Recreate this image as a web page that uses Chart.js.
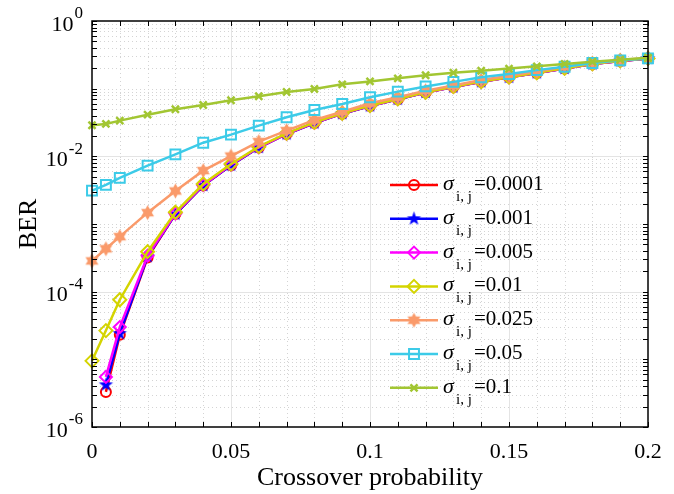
<!DOCTYPE html>
<html>
<head>
<meta charset="utf-8">
<script src="https://cdn.jsdelivr.net/npm/chart.js@4/dist/chart.umd.min.js"></script>
<style>
  body { margin: 0; background: #fff; }
  canvas { display: block; }
</style>
</head>
<body>
<canvas id="ber-chart" width="674" height="494"></canvas>
<script>
// --- data ---
const crossoverProb = [0, 0.005, 0.01, 0.02, 0.03, 0.04, 0.05, 0.06, 0.07, 0.08, 0.09, 0.1,
                       0.11, 0.12, 0.13, 0.14, 0.15, 0.16, 0.17, 0.18, 0.19, 0.2];
const sigmaLabels = ['0.0001', '0.001', '0.005', '0.01', '0.025', '0.05', '0.1'];

const berSigma00001 = [null, 3.3e-6, 2.3e-5, 3.2e-4, 1.40e-3, 3.7e-3, 7.4e-3, 0.0135, 0.0214, 0.0311, 0.0427, 0.0555,
                       0.0699, 0.0879, 0.106, 0.126, 0.147, 0.171, 0.199, 0.231, 0.257, 0.279];
const berSigma0001  = [null, 4.2e-6, 2.4e-5, 3.3e-4, 1.40e-3, 3.7e-3, 7.4e-3, 0.0135, 0.0214, 0.0311, 0.0427, 0.0555,
                       0.0699, 0.0879, 0.106, 0.126, 0.147, 0.171, 0.199, 0.231, 0.257, 0.279];
const berSigma0005  = [null, 5.5e-6, 3.0e-5, 3.4e-4, 1.43e-3, 3.75e-3, 7.5e-3, 0.0136, 0.0215, 0.0312, 0.0428, 0.0556,
                       0.0700, 0.0880, 0.106, 0.126, 0.147, 0.171, 0.199, 0.231, 0.257, 0.279];
const berSigma001   = [9.5e-6, 2.66e-5, 7.6e-5, 3.9e-4, 1.49e-3, 3.9e-3, 7.7e-3, 0.0139, 0.0219, 0.0317, 0.0433, 0.0561,
                       0.0705, 0.0884, 0.107, 0.127, 0.148, 0.172, 0.200, 0.232, 0.258, 0.280];
const berSigma0025  = [2.85e-4, 4.3e-4, 6.5e-4, 1.47e-3, 3.08e-3, 6.15e-3, 0.0101, 0.0165, 0.0240, 0.0345, 0.0457, 0.0608,
                       0.0746, 0.0935, 0.111, 0.134, 0.155, 0.180, 0.210, 0.240, 0.265, 0.285];
const berSigma005   = [3.11e-3, 3.78e-3, 4.8e-3, 7.3e-3, 0.0107, 0.0159, 0.0209, 0.0284, 0.0378, 0.0485, 0.0594, 0.0746,
                       0.0904, 0.108, 0.126, 0.147, 0.165, 0.188, 0.211, 0.240, 0.262, 0.280];
const berSigma01    = [0.0288, 0.0301, 0.0337, 0.0413, 0.0496, 0.0574, 0.0674, 0.0773, 0.0894, 0.099, 0.116, 0.128,
                       0.142, 0.158, 0.172, 0.184, 0.198, 0.214, 0.232, 0.250, 0.268, 0.286];

const xTickValues = [0, 0.05, 0.1, 0.15, 0.2];
const xMinorStep = 0.01;
const yTickExponents = [0, -2, -4, -6];

const FONT = "'Liberation Serif', 'DejaVu Serif', serif";

// filled star markers (pentagram / hexagram) as small canvases
function starCanvas(points, outerR, innerR, color) {
    const size = Math.ceil(outerR * 2 + 2);
    const c = document.createElement('canvas');
    c.width = size; c.height = size;
    const g = c.getContext('2d');
    g.translate(size / 2, size / 2);
    g.beginPath();
    for (let i = 0; i < points * 2; i++) {
        const r = i % 2 ? innerR : outerR;
        const a = -Math.PI / 2 + i * Math.PI / points;
        g.lineTo(r * Math.cos(a), r * Math.sin(a));
    }
    g.closePath();
    g.fillStyle = color;
    g.fill();
    return c;
}

const pentagram = starCanvas(5, 7.5, 3.0, '#0000ff');
const hexagram = starCanvas(6, 7.5, 4.2, '#fa9a6a');

const seriesStyle = [
    { data: berSigma00001, color: '#ff0000', pointStyle: 'circle', radius: 5, bw: 2 },
    { data: berSigma0001,  color: '#0000ff', pointStyle: pentagram, radius: 7, bw: 1 },
    { data: berSigma0005,  color: '#ff00ff', pointStyle: 'rectRot', radius: 6, bw: 2 },
    { data: berSigma001,   color: '#d4d400', pointStyle: 'rectRot', radius: 6.5, bw: 2 },
    { data: berSigma0025,  color: '#fa9a6a', pointStyle: hexagram, radius: 7, bw: 1 },
    { data: berSigma005,   color: '#3ccbe8', pointStyle: 'rect', radius: 7, bw: 2 },
    { data: berSigma01,    color: '#a2c632', pointStyle: 'crossRot', radius: 5, bw: 2.5 }
];

const datasets = seriesStyle.map((s, i) => ({
    label: 'sigma=' + sigmaLabels[i],
    data: crossoverProb.map((p, k) => ({ x: p, y: s.data[k] })),
    borderColor: s.color,
    backgroundColor: s.color,
    borderWidth: 2.5,
    pointStyle: s.pointStyle,
    pointRadius: s.radius,
    pointBorderWidth: s.bw,
    pointBorderColor: s.color,
    pointBackgroundColor: 'rgba(0,0,0,0)',
    tension: 0,
    clip: false,
    order: seriesStyle.length - i
}));

function markerAt(ctx, s, x, y) {
    ctx.save();
    ctx.strokeStyle = s.color;
    ctx.lineWidth = s.bw;
    ctx.beginPath();
    const r = s.radius;
    if (typeof s.pointStyle === 'object') {
        ctx.drawImage(s.pointStyle, x - s.pointStyle.width / 2, y - s.pointStyle.height / 2);
    } else if (s.pointStyle === 'circle') {
        ctx.arc(x, y, r, 0, Math.PI * 2); ctx.stroke();
    } else if (s.pointStyle === 'rectRot') {
        ctx.moveTo(x, y - r); ctx.lineTo(x + r, y); ctx.lineTo(x, y + r); ctx.lineTo(x - r, y); ctx.closePath(); ctx.stroke();
    } else if (s.pointStyle === 'rect') {
        const h = r * Math.SQRT1_2;
        ctx.rect(x - h, y - h, 2 * h, 2 * h); ctx.stroke();
    } else if (s.pointStyle === 'crossRot') {
        const d = r * Math.SQRT1_2;
        ctx.moveTo(x - d, y - d); ctx.lineTo(x + d, y + d);
        ctx.moveTo(x - d, y + d); ctx.lineTo(x + d, y - d);
        ctx.stroke();
    }
    ctx.restore();
}

// grid (major solid, minor dotted), drawn under the lines
const gridPlugin = {
    id: 'matlabGrid',
    beforeDatasetsDraw(chart) {
        const { ctx, chartArea: a, scales: { x, y } } = chart;
        ctx.save();
        ctx.lineWidth = 1;
        ctx.strokeStyle = '#d4d4d4';
        ctx.setLineDash([1, 3]);
        ctx.beginPath();
        for (let v = xMinorStep; v < 0.2 - 1e-9; v += xMinorStep) {
            if (xTickValues.some(t => Math.abs(t - v) < 1e-9)) continue;
            const px = Math.round(x.getPixelForValue(v)) + 0.5;
            ctx.moveTo(px, a.top); ctx.lineTo(px, a.bottom);
        }
        for (let e = -6; e < 0; e++) {
            for (let m = 1; m <= 9; m++) {
                if (m === 1 && yTickExponents.includes(e)) continue;
                const py = Math.round(y.getPixelForValue(m * Math.pow(10, e))) + 0.5;
                ctx.moveTo(a.left, py); ctx.lineTo(a.right, py);
            }
        }
        ctx.stroke();
        ctx.setLineDash([]);
        ctx.strokeStyle = '#e4e4e4';
        ctx.beginPath();
        xTickValues.slice(1, -1).forEach(v => {
            const px = Math.round(x.getPixelForValue(v)) + 0.5;
            ctx.moveTo(px, a.top); ctx.lineTo(px, a.bottom);
        });
        yTickExponents.slice(1, -1).forEach(e => {
            const py = Math.round(y.getPixelForValue(Math.pow(10, e))) + 0.5;
            ctx.moveTo(a.left, py); ctx.lineTo(a.right, py);
        });
        ctx.stroke();
        ctx.restore();
    },
    afterDatasetsDraw(chart) {
        const { ctx, chartArea: a, scales: { x, y } } = chart;
        ctx.save();
        // inward ticks on all four sides
        ctx.strokeStyle = '#000';
        ctx.lineWidth = 1;
        ctx.beginPath();
        const tl = 5;
        for (let v = 0; v <= 0.2 + 1e-9; v += xMinorStep) {
            const px = Math.round(x.getPixelForValue(v)) + 0.5;
            ctx.moveTo(px, a.bottom); ctx.lineTo(px, a.bottom - tl);
            ctx.moveTo(px, a.top); ctx.lineTo(px, a.top + tl);
        }
        for (let e = -6; e <= 0; e++) {
            for (let m = 1; m <= 9; m++) {
                if (e === 0 && m > 1) break;
                const py = Math.round(y.getPixelForValue(m * Math.pow(10, e))) + 0.5;
                ctx.moveTo(a.left, py); ctx.lineTo(a.left + tl, py);
                ctx.moveTo(a.right, py); ctx.lineTo(a.right - tl, py);
            }
        }
        ctx.stroke();
        // axes box
        ctx.lineWidth = 1.5;
        ctx.strokeRect(a.left, a.top, a.right - a.left, a.bottom - a.top);

        // y tick labels 10^k
        ctx.fillStyle = '#000';
        ctx.textAlign = 'right';
        ctx.textBaseline = 'middle';
        yTickExponents.forEach(e => {
            const py = y.getPixelForValue(Math.pow(10, e));
            ctx.font = '17px ' + FONT;
            const sup = String(e);
            const supW = ctx.measureText(sup).width;
            ctx.fillText(sup, a.left - 9, py - 7);
            ctx.font = '22px ' + FONT;
            ctx.fillText('10', a.left - 10 - supW, py + 4);
        });

        // legend
        seriesStyle.forEach((s, i) => {
            const ly = 185 + i * 33.8;
            ctx.strokeStyle = s.color;
            ctx.lineWidth = 2.5;
            ctx.beginPath();
            ctx.moveTo(390, ly); ctx.lineTo(438, ly);
            ctx.stroke();
            markerAt(ctx, s, 414, ly);
            ctx.fillStyle = '#000';
            ctx.textAlign = 'left';
            ctx.textBaseline = 'alphabetic';
            ctx.font = 'italic 22px ' + FONT;
            ctx.fillText('\u03C3', 443, ly + 5);
            ctx.font = '15px ' + FONT;
            ctx.fillText('i, j', 456, ly + 16);
            ctx.font = '21px ' + FONT;
            ctx.fillText('=' + sigmaLabels[i], 474, ly + 5);
        });
        ctx.restore();
    }
};

new Chart(document.getElementById('ber-chart'), {
    type: 'line',
    data: { datasets },
    options: {
        responsive: false,
        animation: false,
        layout: { padding: { top: 21, right: 26, left: 0, bottom: 0 } },
        plugins: { legend: { display: false }, tooltip: { enabled: false } },
        scales: {
            x: {
                type: 'linear',
                min: 0, max: 0.2,
                grid: { display: false },
                border: { display: false },
                afterBuildTicks: scale => { scale.ticks = xTickValues.map(v => ({ value: v })); },
                afterFit: scale => { scale.height = 67; },
                ticks: {
                    color: '#000',
                    font: { family: FONT, size: 22 },
                    padding: 4,
                    maxRotation: 0,
                    callback: v => String(Number(v.toFixed(2)))
                },
                title: {
                    display: true,
                    text: 'Crossover probability',
                    color: '#000',
                    font: { family: FONT, size: 26 },
                    padding: { top: 0, bottom: 0 }
                }
            },
            y: {
                type: 'logarithmic',
                min: 1e-6, max: 1,
                grid: { display: false },
                border: { display: false },
                ticks: { display: false },
                afterFit: scale => { scale.width = 92; },
                title: {
                    display: true,
                    text: 'BER',
                    color: '#000',
                    font: { family: FONT, size: 26 },
                    padding: { top: 14, bottom: 0 }
                }
            }
        }
    },
    plugins: [gridPlugin]
});
</script>
</body>
</html>
